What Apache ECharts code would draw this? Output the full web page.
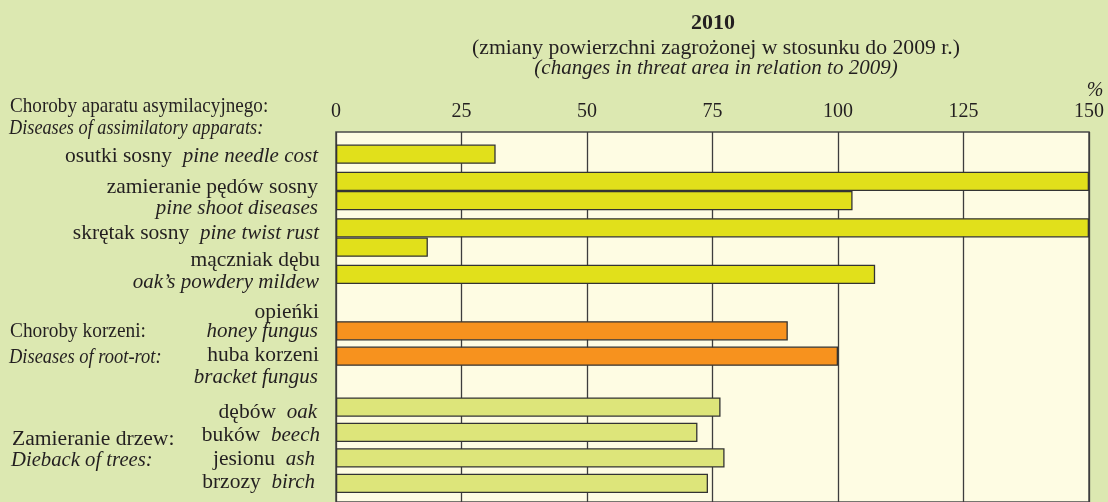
<!DOCTYPE html>
<html>
<head>
<meta charset="utf-8">
<title>2010</title>
<script src="https://cdn.jsdelivr.net/npm/echarts@6/dist/echarts.min.js"></script>
<style>
html, body {margin: 0; padding: 0; background: #dce8b1;}
#chart {width: 1108px; height: 502px;}
</style>
</head>
<body>
<div id="chart"></div>
<script>
var ticks = [0, 25, 50, 75, 100, 125, 150];

// choroby aparatu asymilacyjnego - two bars in some rows
var leafCats = ['osutki sosny', 'zamieranie pędów sosny', 'skrętak sosny', 'mącznik dębu'];
var leafUpper = [null, 150, 150, 107.4];
var leafLower = [31.8, 102.9, 18.3, null];

// choroby korzeni + zamieranie drzew
var treeCats = ['opieńki', 'huba korzeni', '', 'dębów', 'buków', 'jesionu', 'brzozy'];
var rootVals = [90, 100, null, null, null, null, null];
var treeVals = [null, null, null, 76.6, 72, 77.4, 74.1];

var serif = 'Liberation Serif';
var ink = '#231f20';

function txt(x, y, text, align, size, italic, squeeze) {
    return {
        type: 'text',
        x: x,
        y: y,
        scaleX: squeeze || 1,
        style: {
            text: text,
            align: align,
            verticalAlign: 'middle',
            fill: ink,
            fontFamily: serif,
            fontSize: size,
            fontStyle: italic ? 'italic' : 'normal',
            rich: {
                r: {fontFamily: serif, fontSize: 21.5, fill: ink},
                i: {fontStyle: 'italic', fontFamily: serif, fontSize: 21, fill: ink}
            }
        }
    };
}

var myChart = echarts.init(document.getElementById('chart'));

var barStyle = function(color) {
    return {color: color, borderColor: '#333', borderWidth: 1.3};
};

var option = {
    backgroundColor: '#dce8b1',
    animation: false,
    textStyle: {fontFamily: serif, color: ink},
    title: [
        {text: '2010', left: 713, top: 12, padding: 0, textAlign: 'center',
            textStyle: {fontFamily: serif, fontSize: 22, fontWeight: 'bold', color: ink}},
        {text: '(zmiany powierzchni zagrożonej w stosunku do 2009 r.)', left: 716, top: 37, padding: 0, textAlign: 'center',
            textStyle: {fontFamily: serif, fontSize: 21.7, fontWeight: 'normal', color: ink}},
        {text: '(changes in threat area in relation to 2009)', left: 716, top: 58, padding: 0, textAlign: 'center',
            textStyle: {fontFamily: serif, fontSize: 21, fontWeight: 'normal', fontStyle: 'italic', color: ink}},
        {text: '%', left: 1095, top: 81, padding: 0, textAlign: 'center',
            textStyle: {fontFamily: serif, fontSize: 20, fontWeight: 'normal', fontStyle: 'italic', color: ink}}
    ],
    grid: [
        // frame with grid lines
        {left: 336, right: 19, top: 132, height: 400, show: true,
            backgroundColor: '#fefce3', borderColor: '#4a4a4a', borderWidth: 1.5},
        // leaf diseases rows
        {left: 336, right: 19, top: 121.25, height: 186},
        // roots and trees rows
        {left: 336, right: 19, top: 318.1, height: 177.9}
    ],
    xAxis: [
        {gridIndex: 0, type: 'value', position: 'top', min: ticks[0], max: ticks[ticks.length - 1], interval: 25,
            axisLine: {show: false}, axisTick: {show: false},
            axisLabel: {fontFamily: serif, fontSize: 20, color: ink, margin: 10},
            splitLine: {lineStyle: {color: '#3d3d3d', width: 1.3}}},
        {gridIndex: 1, type: 'value', min: 0, max: 150, show: false},
        {gridIndex: 2, type: 'value', min: 0, max: 150, show: false}
    ],
    yAxis: [
        {gridIndex: 0, type: 'value', show: false},
        {gridIndex: 1, type: 'category', data: leafCats, inverse: true, show: false},
        {gridIndex: 2, type: 'category', data: treeCats, inverse: true, show: false}
    ],
    series: [
        {name: 'leaf a', type: 'bar', xAxisIndex: 1, yAxisIndex: 1, data: leafUpper,
            barWidth: 19.3, barGap: '0%', itemStyle: barStyle('#e1e01b')},
        {name: 'leaf b', type: 'bar', xAxisIndex: 1, yAxisIndex: 1, data: leafLower,
            barWidth: 19.3, barGap: '0%', itemStyle: barStyle('#e1e01b')},
        {name: 'roots', type: 'bar', xAxisIndex: 2, yAxisIndex: 2, data: rootVals,
            barWidth: 19.3, barGap: '-100%', itemStyle: barStyle('#f7921e')},
        {name: 'trees', type: 'bar', xAxisIndex: 2, yAxisIndex: 2, data: treeVals,
            barWidth: 19.3, barGap: '-100%', itemStyle: barStyle('#dde57a')}
    ],
    graphic: [
        txt(10, 106, 'Choroby aparatu asymilacyjnego:', 'left', 21.5, false, 0.89),
        txt(9, 128, 'Diseases of assimilatory apparats:', 'left', 21, true, 0.87),
        txt(318, 156, '{r|osutki sosny}  {i|pine needle cost}', 'right', 21.5),
        txt(318, 187, 'zamieranie pędów sosny', 'right', 21.5),
        txt(318, 208, 'pine shoot diseases', 'right', 21, true),
        txt(319, 233, '{r|skrętak sosny}  {i|pine twist rust}', 'right', 21.5),
        txt(320, 260, 'mączniak dębu', 'right', 21.5),
        txt(319, 282, 'oak’s powdery mildew', 'right', 21, true),
        txt(319, 312, 'opieńki', 'right', 21.5),
        txt(318, 331, 'honey fungus', 'right', 21, true),
        txt(319, 355, 'huba korzeni', 'right', 21.5),
        txt(318, 377, 'bracket fungus', 'right', 21, true),
        txt(10, 331, 'Choroby korzeni:', 'left', 21.5, false, 0.9),
        txt(9, 357, 'Diseases of root-rot:', 'left', 21, true, 0.88),
        txt(317, 412, '{r|dębów}  {i|oak}', 'right', 21.5),
        txt(320, 435, '{r|buków}  {i|beech}', 'right', 21.5),
        txt(315, 459, '{r|jesionu}  {i|ash}', 'right', 21.5),
        txt(315, 482, '{r|brzozy}  {i|birch}', 'right', 21.5),
        txt(12, 439, 'Zamieranie drzew:', 'left', 21.6),
        txt(11, 461, 'Dieback of trees:', 'left', 20.7, true)
    ]
};

myChart.setOption(option);
</script>
</body>
</html>
